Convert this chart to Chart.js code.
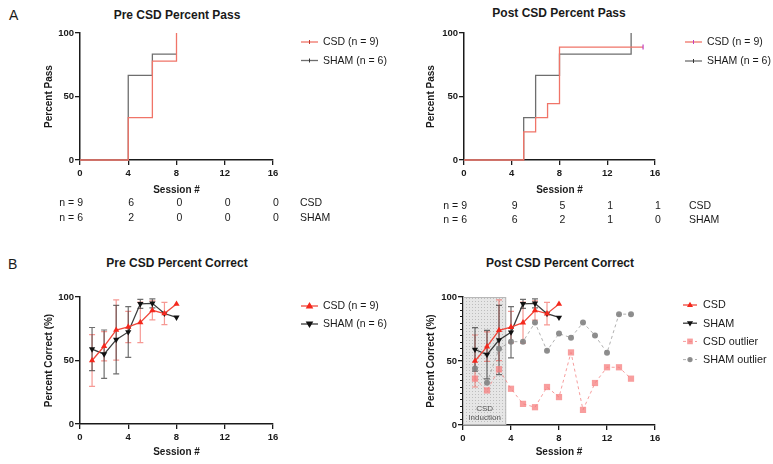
<!DOCTYPE html>
<html>
<head>
<meta charset="utf-8">
<script src="https://cdn.jsdelivr.net/npm/chart.js@4.4.1/dist/chart.umd.min.js"></script>
<style>
  body { margin: 0; background: #fff; font-family: "Liberation Sans", Arial, sans-serif; }
  #fig { position: relative; width: 773px; height: 464px; overflow: hidden; background: #fff; }
  canvas { position: absolute; }
  .lbl { position: absolute; white-space: nowrap; color: #1a1a1a; line-height: 1; }
  .title { font-weight: bold; font-size: 12px; transform: translateX(-50%); }
  .letter { font-size: 14px; }
  .cell { font-size: 10.5px; transform: translate(-50%, -50%); }
  .first { font-size: 10.5px; transform: translate(-100%, -50%); }
  .grp { font-size: 10.5px; transform: translateY(-50%); }
</style>
</head>
<body>
<div id="fig">
  <div class="lbl letter" style="left:9px;top:8px">A</div>
  <div class="lbl letter" style="left:8px;top:257px">B</div>
  <div class="lbl title" style="left:177px;top:9px">Pre CSD Percent Pass</div>
  <div class="lbl title" style="left:559px;top:7px">Post CSD Percent Pass</div>
  <div class="lbl title" style="left:177px;top:257px">Pre CSD Percent Correct</div>
  <div class="lbl title" style="left:560px;top:257px">Post CSD Percent Correct</div>
  <canvas id="prePass" width="390" height="200" style="left:0;top:0"></canvas>
  <canvas id="postPass" width="383" height="200" style="left:390px;top:0"></canvas>
  <canvas id="preCorrect" width="390" height="224" style="left:0;top:240px"></canvas>
  <canvas id="postCorrect" width="383" height="224" style="left:390px;top:240px"></canvas>
</div>
<script>
// ---- data ----
const sessionTicks = [0, 4, 8, 12, 16];

const prePassCsdX = [0, 4, 6, 8];
const prePassCsdY = [0, 33.3, 77.8, 100];
const prePassShamX = [0, 4, 6, 8];
const prePassShamY = [0, 66.7, 83.3, 83.3];

const postPassCsdX = [0, 5, 6, 7, 8, 15];
const postPassCsdY = [0, 22.2, 33.3, 44.4, 88.9, 88.9];
const postPassShamX = [0, 5, 6, 8, 14];
const postPassShamY = [0, 33.3, 66.7, 83.3, 100];

const preAtRiskCsd = [9, 6, 0, 0, 0];
const preAtRiskSham = [6, 2, 0, 0, 0];
const postAtRiskCsd = [9, 9, 5, 1, 1];
const postAtRiskSham = [6, 6, 2, 1, 0];

const sessions = [1, 2, 3, 4, 5, 6, 7, 8];
const csdCorrect = [50, 61.2, 74, 76.4, 80, 89.5, 87, 94.5];
const csdError = [20.3, 11.5, 23.7, 12.3, 16, 7.5, 8.8, 0];
const shamCorrect = [59, 55, 66.4, 72.5, 94.6, 95, 87, 84];
const shamError = [17, 19, 27, 20, 3.5, 3.5, 0, 0];

const outlierSessions = [1, 2, 3, 4, 5, 6, 7, 8, 9, 10, 11, 12, 13, 14];
const csdOutlier = [36.2, 27, 43.6, 28.3, 16.5, 13.9, 29.7, 21.8, 56.7, 11.8, 32.8, 45.1, 45.1, 36.2];
const shamOutlier = [44.1, 33, 59.6, 65.1, 65.1, 80, 58, 71.4, 68.2, 80, 70, 56.4, 86.6, 86.6];

const inductionSessions = [0, 3.6];

// ---- styling helpers ----
const ink = "#1a1a1a";
const fontFamily = '"Liberation Sans", Arial, sans-serif';
const tickFont = { family: fontFamily, size: 9.5, weight: "bold" };
const titleFont = { family: fontFamily, size: 10, weight: "bold" };

function xy(xs, ys) {
	return xs.map((x, i) => ({ x: x, y: ys[i] }));
}

function drawMarker(ctx, kind, x, y, r, color) {
	ctx.save();
	ctx.setLineDash([]);
	ctx.fillStyle = color;
	ctx.strokeStyle = color;
	ctx.beginPath();
	if (kind === "triangle") {
		ctx.moveTo(x, y - r);
		ctx.lineTo(x + r * 0.95, y + r * 0.6);
		ctx.lineTo(x - r * 0.95, y + r * 0.6);
		ctx.closePath();
		ctx.fill();
	} else if (kind === "triangleDown") {
		ctx.moveTo(x, y + r);
		ctx.lineTo(x + r * 0.95, y - r * 0.6);
		ctx.lineTo(x - r * 0.95, y - r * 0.6);
		ctx.closePath();
		ctx.fill();
	} else if (kind === "rect") {
		const s = r * Math.SQRT1_2;
		ctx.rect(x - s, y - s, 2 * s, 2 * s);
		ctx.fill();
	} else if (kind === "circle") {
		ctx.arc(x, y, r, 0, Math.PI * 2);
		ctx.fill();
	} else if (kind === "tick") {
		ctx.lineWidth = 1;
		ctx.moveTo(x, y - r);
		ctx.lineTo(x, y + r);
		ctx.stroke();
	}
	ctx.restore();
}

const lineLegend = {
	id: "lineLegend",
	afterDraw(chart, args, opts) {
		const ctx = chart.ctx;
		ctx.save();
		ctx.font = opts.fontSize + "px " + fontFamily;
		ctx.textBaseline = "middle";
		chart.data.datasets.forEach((ds, i) => {
			const y = opts.y + i * opts.rowGap;
			ctx.strokeStyle = ds.legendLine || ds.borderColor;
			ctx.lineWidth = ds.borderWidth;
			ctx.setLineDash(ds.borderDash || []);
			ctx.beginPath();
			ctx.moveTo(opts.x, y);
			ctx.lineTo(opts.x + opts.lineLen, y);
			ctx.stroke();
			drawMarker(ctx, ds.legendMarker, opts.x + opts.lineLen / 2, y, (ds.legendRadius || 3) * (opts.markerScale || 1), ds.legendMarkerColor || ds.pointBackgroundColor || ds.borderColor);
			ctx.fillStyle = ink;
			ctx.fillText(ds.label, opts.x + opts.lineLen + opts.textGap, y + 0.5);
		});
		ctx.restore();
	},
};

const errorBars = {
	id: "errorBars",
	beforeDatasetsDraw(chart) {
		const ctx = chart.ctx;
		const xs = chart.scales.x;
		const ys = chart.scales.y;
		ctx.save();
		chart.data.datasets.forEach((ds) => {
			if (!ds.errors) return;
			ctx.strokeStyle = ds.errorColor;
			ctx.lineWidth = 1.2;
			ds.data.forEach((p, i) => {
				const e = ds.errors[i];
				if (!e) return;
				const px = xs.getPixelForValue(p.x);
				const top = ys.getPixelForValue(Math.min(p.y + e, 100));
				const bot = ys.getPixelForValue(p.y - e);
				ctx.beginPath();
				ctx.moveTo(px, top);
				ctx.lineTo(px, bot);
				ctx.moveTo(px - 3, top);
				ctx.lineTo(px + 3, top);
				ctx.moveTo(px - 3, bot);
				ctx.lineTo(px + 3, bot);
				ctx.stroke();
			});
		});
		ctx.restore();
	},
};

const inductionShade = {
	id: "inductionShade",
	beforeDatasetsDraw(chart) {
		const ctx = chart.ctx;
		const xs = chart.scales.x;
		const ys = chart.scales.y;
		const left = xs.getPixelForValue(inductionSessions[0]);
		const right = xs.getPixelForValue(inductionSessions[1]);
		const top = ys.getPixelForValue(100);
		const bottom = ys.getPixelForValue(0);
		const tile = document.createElement("canvas");
		tile.width = 3;
		tile.height = 3;
		const tctx = tile.getContext("2d");
		tctx.fillStyle = "#e6e6e6";
		tctx.fillRect(0, 0, 3, 3);
		tctx.fillStyle = "#bdbdbd";
		tctx.fillRect(1, 1, 1, 1);
		ctx.save();
		ctx.fillStyle = ctx.createPattern(tile, "repeat");
		ctx.fillRect(left, top, right - left, bottom - top);
		ctx.strokeStyle = "#b8b8b8";
		ctx.lineWidth = 1;
		ctx.strokeRect(left + 0.5, top + 0.5, right - left - 1, bottom - top - 1);
		ctx.fillStyle = "#555";
		ctx.font = "8px " + fontFamily;
		ctx.textAlign = "center";
		ctx.textBaseline = "middle";
		const cx = (left + right) / 2;
		ctx.fillText("CSD", cx, bottom - 16);
		ctx.fillText("Induction", cx, bottom - 7);
		ctx.restore();
	},
};

const minorTicks = {
	id: "minorTicks",
	afterDraw(chart) {
		const ctx = chart.ctx;
		const ys = chart.scales.y;
		const x0 = chart.chartArea.left;
		ctx.save();
		ctx.strokeStyle = ink;
		ctx.lineWidth = 1;
		for (let v = 5; v < 100; v += 5) {
			if (v % 50 === 0) continue;
			const py = Math.round(ys.getPixelForValue(v)) + 0.5;
			ctx.beginPath();
			ctx.moveTo(x0 - 3, py);
			ctx.lineTo(x0, py);
			ctx.stroke();
		}
		ctx.restore();
	},
};

function makeOptions(area, size, padLeft, yTitle, legend, xTitlePad) {
	const gridStyle = { display: true, drawOnChartArea: false, tickLength: 5, color: ink, lineWidth: 1.3 };
	return {
		responsive: false,
		animation: false,
		events: [],
		layout: { padding: { left: padLeft, top: area.top, right: size.w - area.right, bottom: 0 } },
		plugins: {
			legend: { display: false },
			tooltip: { enabled: false },
			lineLegend: legend,
		},
		scales: {
			x: {
				type: "linear",
				min: 0,
				max: 16,
				afterFit: (s) => { s.height = size.h - area.bottom; },
				afterBuildTicks: (s) => { s.ticks = sessionTicks.map((v) => ({ value: v })); },
				ticks: { font: tickFont, color: ink, padding: 3, maxRotation: 0 },
				grid: gridStyle,
				border: { color: ink, width: 1.5 },
				title: { display: true, text: "Session #", font: titleFont, color: ink, padding: { top: 2, bottom: xTitlePad } },
			},
			y: {
				min: 0,
				max: 100,
				afterFit: (s) => { s.width = area.left - padLeft; },
				ticks: { stepSize: 50, font: tickFont, color: ink, padding: 1 },
				grid: gridStyle,
				border: { color: ink, width: 1.5 },
				title: { display: true, text: yTitle, font: titleFont, color: ink, padding: { top: 4, bottom: 2 } },
			},
		},
	};
}

// ---- A: percent pass (step curves, horizontal first then up) ----
const prePassChart = new Chart(document.getElementById("prePass"), {
	type: "line",
	data: {
		datasets: [
			{ label: "CSD (n = 9)", data: xy(prePassCsdX, prePassCsdY), stepped: "before", borderColor: "#f07468", borderWidth: 1.3, pointRadius: 0, clip: false, legendMarker: "tick", legendRadius: 2, legendMarkerColor: "#c0392b" },
			{ label: "SHAM (n = 6)", data: xy(prePassShamX, prePassShamY), stepped: "before", borderColor: "#6e6e6e", borderWidth: 1.3, pointRadius: 0, clip: false, legendMarker: "tick", legendRadius: 2, legendMarkerColor: "#333" },
		],
	},
	options: makeOptions({ left: 80, right: 273, top: 33, bottom: 160 }, { w: 390, h: 200 }, 39, "Percent Pass",
		{ x: 301, y: 42, rowGap: 18.5, lineLen: 17, textGap: 5, fontSize: 10.5 }, 4),
	plugins: [lineLegend],
});

const postPassChart = new Chart(document.getElementById("postPass"), {
	type: "line",
	data: {
		datasets: [
			{ label: "CSD (n = 9)", data: xy(postPassCsdX, postPassCsdY), stepped: "before", borderColor: "#f07468", borderWidth: 1.3, clip: false,
				pointRadius: (c) => (c.dataIndex === postPassCsdX.length - 1 ? 2.5 : 0), pointStyle: "line", pointRotation: 90,
				pointBorderColor: "#c040c0", pointBorderWidth: 1.2, legendMarker: "tick", legendRadius: 2, legendMarkerColor: "#c040c0" },
			{ label: "SHAM (n = 6)", data: xy(postPassShamX, postPassShamY), stepped: "before", borderColor: "#6e6e6e", borderWidth: 1.3, pointRadius: 0, clip: false, legendMarker: "tick", legendRadius: 2, legendMarkerColor: "#333" },
		],
	},
	options: makeOptions({ left: 74, right: 265, top: 33, bottom: 160 }, { w: 383, h: 200 }, 31, "Percent Pass",
		{ x: 295, y: 42, rowGap: 19, lineLen: 17, textGap: 5, fontSize: 10.5 }, 4),
	plugins: [lineLegend],
});

// ---- at-risk tables under A ----
function addTable(chart, canvasLeft, rows, groupX) {
	const fig = document.getElementById("fig");
	rows.forEach((row) => {
		row.values.forEach((v, i) => {
			const d = document.createElement("div");
			const px = canvasLeft + chart.scales.x.getPixelForValue(sessionTicks[i]) + 3;
			d.className = "lbl " + (i === 0 ? "first" : "cell");
			d.textContent = i === 0 ? "n = " + v : String(v);
			d.style.left = px + "px";
			d.style.top = row.y + "px";
			fig.appendChild(d);
		});
		const g = document.createElement("div");
		g.className = "lbl grp";
		g.textContent = row.name;
		g.style.left = groupX + "px";
		g.style.top = row.y + "px";
		fig.appendChild(g);
	});
}
addTable(prePassChart, 0, [
	{ name: "CSD", values: preAtRiskCsd, y: 202 },
	{ name: "SHAM", values: preAtRiskSham, y: 217 },
], 300);
addTable(postPassChart, 390, [
	{ name: "CSD", values: postAtRiskCsd, y: 205 },
	{ name: "SHAM", values: postAtRiskSham, y: 219 },
], 689);

// ---- B: percent correct ----
function groupSets(csdLabel, shamLabel) {
	return [
		{ label: csdLabel, data: xy(sessions, csdCorrect), borderColor: "#f0473b", borderWidth: 1.3, clip: false,
			pointStyle: "triangle", pointRadius: 3.6, pointBackgroundColor: "#f5281d", pointBorderColor: "#f5281d", pointBorderWidth: 0,
			errors: csdError, errorColor: "rgba(238,70,60,0.55)", legendMarker: "triangle", legendRadius: 4 },
		{ label: shamLabel, data: xy(sessions, shamCorrect), borderColor: "#3c3c3c", borderWidth: 1.3, clip: false,
			pointStyle: "triangle", pointRotation: 180, pointRadius: 3.6, pointBackgroundColor: "#111", pointBorderColor: "#111", pointBorderWidth: 0,
			errors: shamError, errorColor: "rgba(50,50,50,0.7)", legendMarker: "triangleDown", legendRadius: 4 },
	];
}

new Chart(document.getElementById("preCorrect"), {
	type: "line",
	data: { datasets: groupSets("CSD (n = 9)", "SHAM (n = 6)") },
	options: makeOptions({ left: 80, right: 273, top: 57, bottom: 184 }, { w: 390, h: 224 }, 39, "Percent Correct (%)",
		{ x: 301, y: 66, rowGap: 18, lineLen: 17, textGap: 5, fontSize: 10.5 }, 6),
	plugins: [errorBars, lineLegend],
});

new Chart(document.getElementById("postCorrect"), {
	type: "line",
	data: {
		datasets: groupSets("CSD", "SHAM").concat([
			{ label: "CSD outlier", data: xy(outlierSessions, csdOutlier), borderColor: "rgba(245,140,140,0.85)", borderWidth: 1, borderDash: [3, 3], clip: false,
				pointStyle: "rect", pointRadius: 4.4, pointBackgroundColor: "rgba(245,125,125,0.75)", pointBorderWidth: 0,
				legendMarker: "rect", legendRadius: 5 },
			{ label: "SHAM outlier", data: xy(outlierSessions, shamOutlier), borderColor: "rgba(150,150,150,0.75)", borderWidth: 1, borderDash: [3, 3], clip: false,
				pointStyle: "circle", pointRadius: 3, pointBackgroundColor: "rgba(130,130,130,0.9)", pointBorderWidth: 0,
				legendMarker: "circle", legendRadius: 3.3 },
		]),
	},
	options: makeOptions({ left: 73, right: 265, top: 57, bottom: 185 }, { w: 383, h: 224 }, 31, "Percent Correct (%)",
		{ x: 293, y: 65, rowGap: 18.2, lineLen: 14, textGap: 6, fontSize: 10.8, markerScale: 0.8 }, 6),
	plugins: [inductionShade, errorBars, minorTicks, lineLegend],
});
</script>
</body>
</html>
